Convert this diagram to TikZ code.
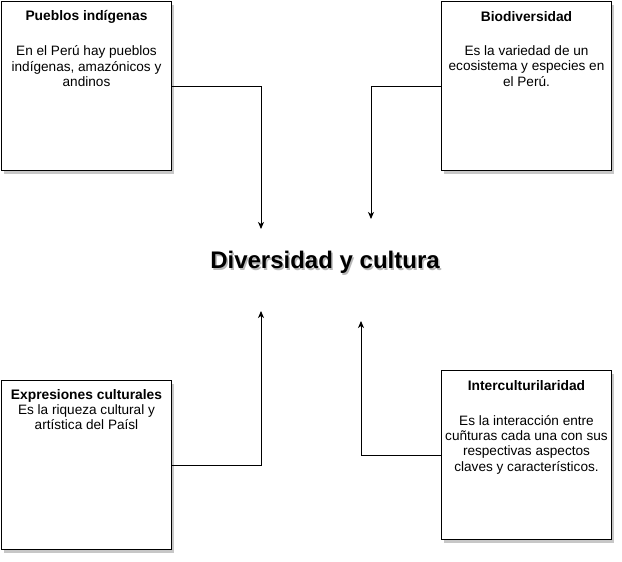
\documentclass[tikz,border=0pt]{standalone}
\usepackage{fontspec}
\setmainfont{Liberation Sans}
\usetikzlibrary{arrows.meta,shadows,calc}
\begin{document}
\begin{tikzpicture}[x=1pt,y=-1pt,
  box/.style={draw=black,line width=1pt,fill=white,minimum width=170pt,minimum height=169pt,
    inner sep=0pt,anchor=north west,
    drop shadow={shadow xshift=2.5pt,shadow yshift=-3pt,opacity=0.22,fill=black}},
  head/.style={font=\bfseries\fontsize{13.8}{15.3}\selectfont,inner sep=0pt,anchor=center},
  body/.style={font=\fontsize{13.6}{15.3}\selectfont,align=center,inner sep=0pt,anchor=north},
  conn/.style={draw=black,line width=1pt,-{Stealth[length=7pt,width=6pt,inset=2pt]}},
  titlefont/.style={font=\bfseries\fontsize{24}{28}\selectfont,inner sep=0pt}]
\useasboundingbox (0,0) rectangle (622,562);

% boxes
\node[box] (pueblos) at (1,1) {};
\node[box] (bio) at (441,1) {};
\node[box] (expr) at (1,380) {};
\node[box] (inter) at (441,370) {};

% texts
\node[head] (h1) at ($(pueblos.north)+(0,16)$) {Pueblos indígenas};
\node[body] (b1) at ($(pueblos.north)+(0,44.5)$) {En el Perú hay pueblos\\indígenas, amazónicos y\\andinos};
\node[head] (h2) at ($(bio.north)+(0,16)$) {Biodiversidad};
\node[body] (b2) at ($(bio.north)+(0,44.5)$) {Es la variedad de un\\ecosistema y especies en\\el Perú.};
\node[head] (h3) at ($(expr.north)+(0,16)$) {Expresiones culturales};
\node[body] (b3) at ($(expr.north)+(0,24)$) {Es la riqueza cultural y\\artística del Paísl};
\node[head] (h4) at ($(inter.north)+(0,16)$) {Interculturilaridad};
\node[body] (b4) at ($(inter.north)+(0,45)$) {Es la interacción entre\\cuñturas cada una con sus\\respectivas aspectos\\claves y característicos.};

% title with shadow
\node[titlefont,text=black,opacity=0.28] (titleshadow) at (326.5,264.5) {Diversidad y cultura};
\node[titlefont] (title) at (325,262) {Diversidad y cultura};

% connectors
\coordinate (t1) at (261,229);
\coordinate (t2) at (371,219);
\coordinate (t3) at (261,311);
\coordinate (t4) at (361,321);
\draw[conn] (pueblos.east) -| (t1);
\draw[conn] (bio.west) -| (t2);
\draw[conn] (expr.east) -| (t3);
\draw[conn] (inter.west) -| (t4);
\end{tikzpicture}
\end{document}
